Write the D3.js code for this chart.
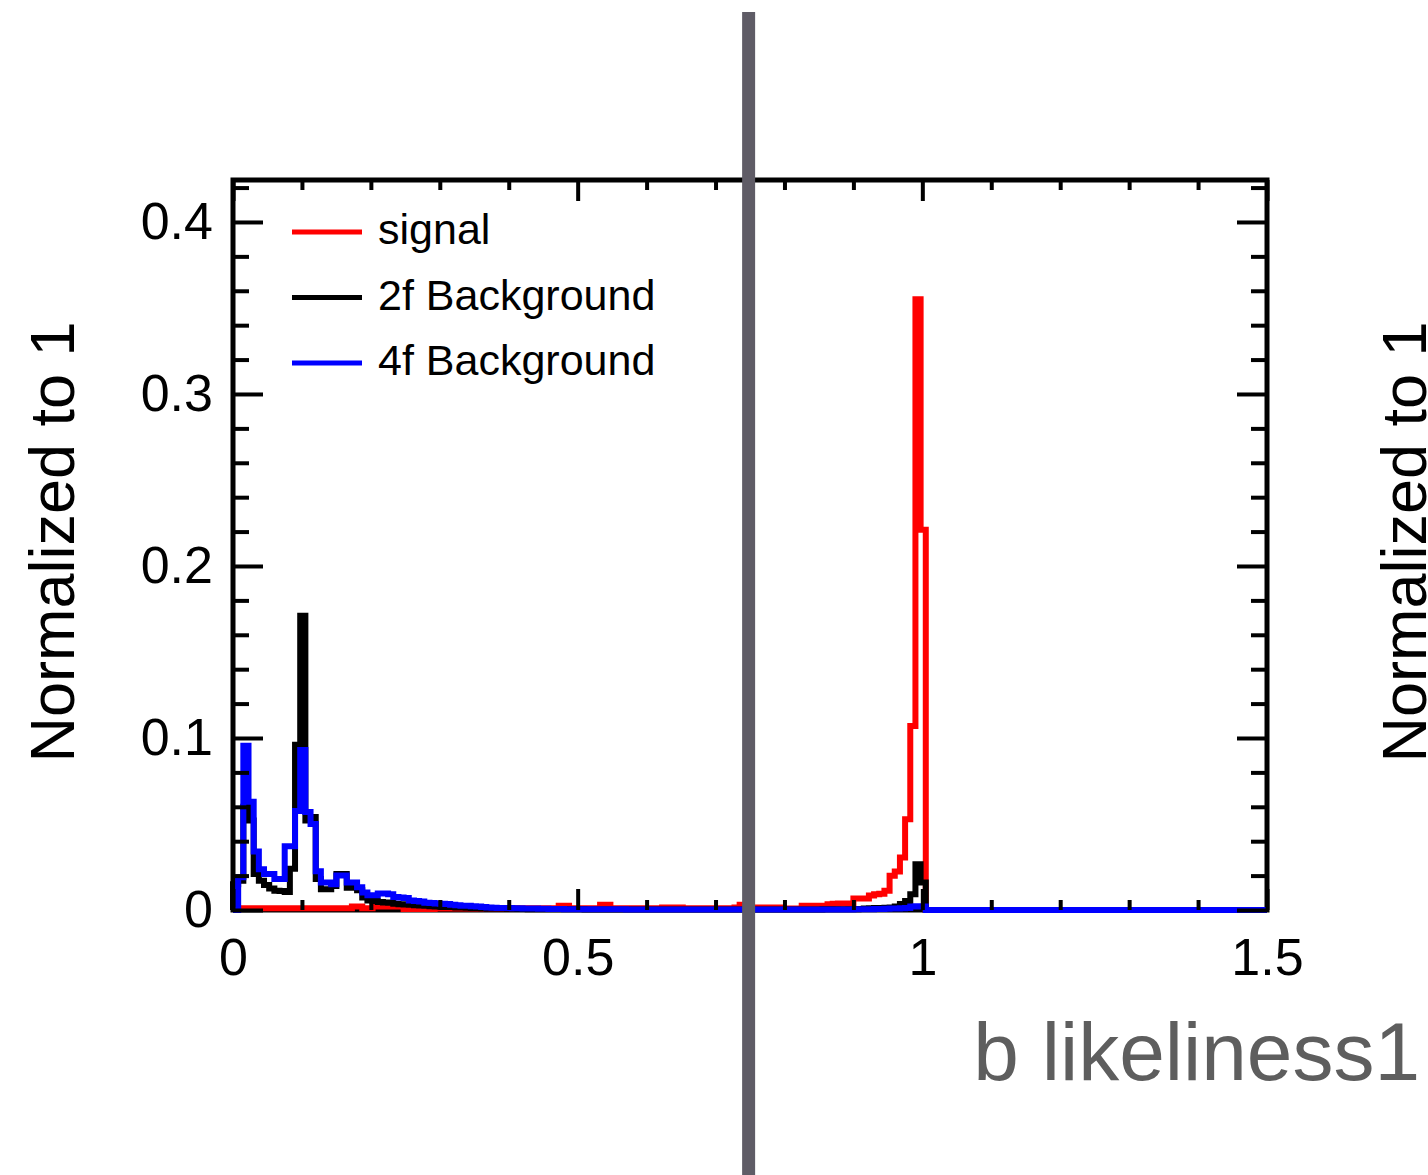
<!DOCTYPE html>
<html>
<head>
<meta charset="utf-8">
<script src="https://cdn.jsdelivr.net/npm/d3@7"></script>
<style>
  body { margin: 0; background: #fff; }
  svg { display: block; font-family: "Liberation Sans", Arial, Helvetica, sans-serif; }
</style>
</head>
<body>
<svg id="chart"></svg>
<script>
// histogram binning: 200 bins of width 0.0075 over [0, 1.5]
const binWidth = 0.0075;

// signal (red)
const signal = [
  0.001,0.001,0.001,0.001,0.001,0.001,0.001,0.001,0.001,0.001,
  0.001,0.001,0.001,0.001,0.001,0.001,0.001,0.001,0.001,0.001,
  0.001,0.001,0.001,0.002,0.002,0.001,0.001,0.002,0.002,0.002,
  0.002,0.002,0.002,0.0006,0.0006,0.0008,0.0006,0.0008,0.0006,0.0008,
  0.0008,0.0008,0.001,0.0008,0.001,0.0008,0.001,0.0008,0.001,0.001,
  0.0008,0.001,0.0008,0.001,0.0008,0.001,0.0008,0.001,0.001,0.0008,
  0.001,0.0008,0.001,0.0025,0.0025,0.001,0.0008,0.001,0.001,0.0008,
  0.001,0.003,0.003,0.001,0.0008,0.001,0.001,0.0008,0.001,0.001,
  0.001,0.0008,0.001,0.0015,0.0015,0.0015,0.0015,0.001,0.0008,0.001,
  0.001,0.0008,0.001,0.001,0.0008,0.001,0.001,0.0015,0.003,0.0012,
  0.001,0.0015,0.0015,0.0015,0.0015,0.0015,0.0009,0.0009,0.0009,0.0009,
  0.0024,0.0024,0.0024,0.0024,0.0024,0.0034,0.0036,0.0038,0.0038,0.0036,
  0.0067,0.0067,0.0067,0.0085,0.0092,0.0095,0.0112,0.0199,0.0224,0.0305,
  0.0528,0.107,0.355,0.221,0,0,0,0,0,0,
  0,0,0,0,0,0,0,0,0,0,
  0,0,0,0,0,0,0,0,0,0,
  0,0,0,0,0,0,0,0,0,0,
  0,0,0,0,0,0,0,0,0,0,
  0,0,0,0,0,0,0,0,0,0,
  0,0,0,0,0,0,0,0,0,0
];

// 2f background (black)
const twoF = [
  0.015,0.017,0.060,0.052,0.021,0.017,0.0145,0.0125,0.0112,0.011,
  0.0105,0.024,0.096,0.171,0.052,0.054,0.018,0.012,0.012,0.014,
  0.021,0.021,0.013,0.013,0.0115,0.0073,0.0055,0.0053,0.0046,0.0044,
  0.0042,0.0036,0.0034,0.0032,0.003,0.0028,0.0026,0.0024,0.0022,0.002,
  0.0019,0.0018,0.0017,0.0015,0.0014,0.0013,0.0012,0.0011,0.001,0.001,
  0.0009,0.0008,0.0008,0.0007,0.0007,0.0006,0.0006,0.0005,0.0005,0.0005,
  0.0005,0.0004,0.0004,0.0004,0.0004,0.0004,0.0004,0.0004,0.0003,0.0003,
  0.0003,0.0003,0.0003,0.0003,0.0003,0.0003,0.0003,0.0003,0.0003,0.0003,
  0.0003,0.0003,0.0003,0.0003,0.0003,0.0003,0.0003,0.0003,0.0003,0.0003,
  0.0003,0.0003,0.0003,0.0003,0.0003,0.0003,0.0003,0.0003,0.0003,0.0003,
  0.0003,0.0003,0.0003,0.0003,0.0003,0.0003,0.0003,0.0003,0.0003,0.0003,
  0.0003,0.0003,0.0003,0.0003,0.0004,0.0004,0.0004,0.0004,0.0005,0.0005,
  0.0005,0.0006,0.0008,0.001,0.0011,0.0012,0.0013,0.0015,0.0021,0.0035,
  0.0053,0.0092,0.0266,0.016,0,0,0,0,0,0,
  0,0,0,0,0,0,0,0,0,0,
  0,0,0,0,0,0,0,0,0,0,
  0,0,0,0,0,0,0,0,0,0,
  0,0,0,0,0,0,0,0,0,0,
  0,0,0,0,0,0,0,0,0,0,
  0,0,0,0,0,0,0,0,0,0
];

// 4f background (blue)
const fourF = [
  0,0.019,0.0955,0.063,0.034,0.0237,0.021,0.021,0.018,0.018,
  0.037,0.037,0.0576,0.093,0.057,0.050,0.0225,0.016,0.016,0.015,
  0.020,0.020,0.016,0.016,0.0132,0.0102,0.0086,0.0086,0.0096,0.0096,
  0.0092,0.0075,0.0072,0.007,0.0055,0.0052,0.005,0.0042,0.004,0.0038,
  0.0037,0.0035,0.003,0.0027,0.0025,0.0024,0.0022,0.002,0.0018,0.0015,
  0.0013,0.0012,0.0012,0.0011,0.001,0.001,0.0009,0.0008,0.0008,0.0007,
  0.0007,0.0006,0.0006,0.0006,0.0005,0.0005,0.0005,0.0005,0.0004,0.0004,
  0.0004,0.0004,0.0004,0.0004,0.0004,0.0004,0.0003,0.0003,0.0003,0.0003,
  0.0003,0.0003,0.0003,0.0003,0.0003,0.0003,0.0003,0.0003,0.0003,0.0003,
  0.0003,0.0003,0.0003,0.0003,0.0003,0.0003,0.0003,0.0003,0.0003,0.0003,
  0.0003,0.0003,0.0003,0.0003,0.0003,0.0003,0.0003,0.0003,0.0003,0.0003,
  0.0003,0.0003,0.0003,0.0003,0.0003,0.0003,0.0003,0.0003,0.0003,0.0003,
  0.0004,0.0004,0.0005,0.0005,0.0006,0.0006,0.0007,0.0008,0.0009,0.001,
  0.0012,0.002,0.0022,0.002,0,0,0,0,0,0,
  0,0,0,0,0,0,0,0,0,0,
  0,0,0,0,0,0,0,0,0,0,
  0,0,0,0,0,0,0,0,0,0,
  0,0,0,0,0,0,0,0,0,0,
  0,0,0,0,0,0,0,0,0,0,
  0,0,0,0,0,0,0,0,0,0
];

const seriesNames = ["signal", "2f Background", "4f Background"];
const seriesColors = ["#ff0000", "#000000", "#0000ff"];

const xMajorTicks = [0, 0.5, 1, 1.5];
const xTickLabels = ["0", "0.5", "1", "1.5"];
const xMinorTicks = [0.1, 0.2, 0.3, 0.4, 0.6, 0.7, 0.8, 0.9, 1.1, 1.2, 1.3, 1.4];
const yMajorTicks = [0, 0.1, 0.2, 0.3, 0.4];
const yTickLabels = ["0", "0.1", "0.2", "0.3", "0.4"];
const yMinorTicks = [0.02, 0.04, 0.06, 0.08, 0.12, 0.14, 0.16, 0.18, 0.22, 0.24, 0.26, 0.28,
                     0.32, 0.34, 0.36, 0.38, 0.42];
const cutValue = 0.748;

// page and frame
const W = 1428, H = 1175;
const frame = { left: 233, top: 180, right: 1267, bottom: 910 };

const svg = d3.select('#chart')
    .attr('width', W)
    .attr('height', H);

svg.append('rect').attr('width', W).attr('height', H).attr('fill', '#fff');

const x = d3.scaleLinear().domain([0, 1.5]).range([frame.left, frame.right]);
const y = d3.scaleLinear().domain([0, 0.4244]).range([frame.bottom, frame.top]);

// frame box
svg.append('rect')
    .attr('x', frame.left)
    .attr('y', frame.top)
    .attr('width', frame.right - frame.left)
    .attr('height', frame.bottom - frame.top)
    .attr('fill', 'none')
    .attr('stroke', '#000')
    .attr('stroke-width', 5);

// step outline for a histogram
function stepPoints(values) {
    const pts = [[0, 0]];
    values.forEach((v, i) => {
        pts.push([i * binWidth, v]);
        pts.push([(i + 1) * binWidth, v]);
    });
    pts.push([values.length * binWidth, 0]);
    return pts;
}

const line = d3.line().x(d => x(d[0])).y(d => y(d[1]));

[signal, twoF, fourF].forEach((vals, i) => {
    svg.append('path')
        .attr('d', line(stepPoints(vals)))
        .attr('fill', 'none')
        .attr('stroke', seriesColors[i])
        .attr('stroke-width', 6)
        .attr('stroke-linejoin', 'miter');
});

// ticks (inward), drawn on top of the histograms
function tickAxis(axis, transform) {
    const g = svg.append('g')
        .attr('transform', transform)
        .call(axis);
    g.select('.domain').remove();
    g.selectAll('.tick line').attr('stroke', '#000').attr('stroke-width', 4);
    return g;
}

const bottomMajor = tickAxis(
    d3.axisBottom(x).tickValues(xMajorTicks).tickSize(-21).tickPadding(28)
        .tickFormat((d, i) => xTickLabels[i]),
    `translate(0,${frame.bottom})`);
bottomMajor.selectAll('text')
    .attr('font-size', 52).attr('fill', '#000')
    .style('font-family', '"Liberation Sans", Arial, sans-serif');

tickAxis(d3.axisBottom(x).tickValues(xMinorTicks).tickSize(-10).tickFormat(''),
    `translate(0,${frame.bottom})`);
tickAxis(d3.axisTop(x).tickValues(xMajorTicks).tickSize(-21).tickFormat(''),
    `translate(0,${frame.top})`);
tickAxis(d3.axisTop(x).tickValues(xMinorTicks).tickSize(-10).tickFormat(''),
    `translate(0,${frame.top})`);

const leftMajor = tickAxis(
    d3.axisLeft(y).tickValues(yMajorTicks).tickSize(-30).tickPadding(20)
        .tickFormat((d, i) => yTickLabels[i]),
    `translate(${frame.left},0)`);
leftMajor.selectAll('text')
    .attr('font-size', 52).attr('fill', '#000')
    .style('font-family', '"Liberation Sans", Arial, sans-serif');

tickAxis(d3.axisLeft(y).tickValues(yMinorTicks).tickSize(-16).tickFormat(''),
    `translate(${frame.left},0)`);
tickAxis(d3.axisRight(y).tickValues(yMajorTicks).tickSize(-30).tickFormat(''),
    `translate(${frame.right},0)`);
tickAxis(d3.axisRight(y).tickValues(yMinorTicks).tickSize(-16).tickFormat(''),
    `translate(${frame.right},0)`);

// legend
const legend = svg.append('g');
seriesNames.forEach((name, i) => {
    const ly = 232 + i * 65.5;
    legend.append('line')
        .attr('x1', 292).attr('x2', 362)
        .attr('y1', ly).attr('y2', ly)
        .attr('stroke', seriesColors[i])
        .attr('stroke-width', 5);
    legend.append('text')
        .attr('x', 378).attr('y', ly + 12)
        .attr('font-size', 43)
        .text(name);
});

// axis titles (the right one is cut by the page edge, as in the source)
svg.append('text')
    .attr('transform', 'translate(74,542) rotate(-90)')
    .attr('text-anchor', 'middle')
    .attr('font-size', 63)
    .text('Normalized to 1');

svg.append('text')
    .attr('transform', 'translate(1426,542) rotate(-90)')
    .attr('text-anchor', 'middle')
    .attr('font-size', 63)
    .text('Normalized to 1');

svg.append('text')
    .attr('x', 1420).attr('y', 1080)
    .attr('text-anchor', 'end')
    .attr('font-size', 82)
    .attr('fill', '#5e5e5e')
    .text('b likeliness1');

// cut line
svg.append('line')
    .attr('x1', x(cutValue)).attr('x2', x(cutValue))
    .attr('y1', 12).attr('y2', H)
    .attr('stroke', '#5f5c66')
    .attr('stroke-width', 13);
</script>
</body>
</html>
